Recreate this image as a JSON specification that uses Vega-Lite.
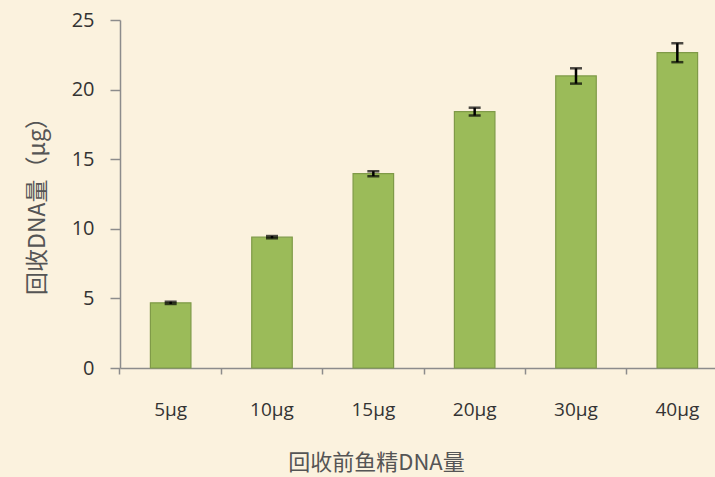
{
  "$schema": "https://vega.github.io/schema/vega-lite/v6.json",
  "autosize": "none",
  "width": 608,
  "height": 348,
  "padding": {"left": 120, "top": 20, "right": 0, "bottom": 109},
  "background": "#FBF2DE",
  "config": {"view": {"stroke": null}, "font": "Open Sans"},
  "data": {"values": [
    {"cat": "5μg", "v": 4.68, "err": 0.08},
    {"cat": "10μg", "v": 9.4, "err": 0.08},
    {"cat": "15μg", "v": 13.96, "err": 0.18},
    {"cat": "20μg", "v": 18.42, "err": 0.28},
    {"cat": "30μg", "v": 20.98, "err": 0.55},
    {"cat": "40μg", "v": 22.65, "err": 0.68}
  ]},
  "encoding": {
    "x": {"field": "cat", "type": "nominal", "sort": null,
      "scale": {"paddingInner": 0.6, "paddingOuter": 0.3},
      "axis": {"title": "回收前鱼精DNA量", "labelAngle": 0, "labelFontSize": 19, "labelColor": "#333333",
        "labelPadding": 26, "bandPosition": -0.75, "tickSize": 6, "tickColor": "#8c8c8c", "tickWidth": 1.5,
        "domainColor": "#8c8c8c", "domainWidth": 1.5, "titleFontSize": 22, "titleFontWeight": "normal",
        "titleColor": "#555555", "titlePadding": 33, "titleX": 256, "titleFont": "Noto Sans CJK SC"}},
    "y": {"field": "v", "type": "quantitative",
       "scale": {"domain": [0, 25]},
       "axis": {"title": "回收DNA量（μg）", "values": [0, 5, 10, 15, 20, 25], "grid": false,
         "labelFontSize": 20, "labelColor": "#333333", "labelPadding": 16, "tickSize": 10,
         "tickColor": "#8c8c8c", "tickWidth": 1.5, "domainColor": "#8c8c8c", "domainWidth": 1.5,
         "titleFontSize": 23, "titleFontWeight": "normal", "titleColor": "#555555", "titlePadding": 22,
         "titleY": 180, "titleFont": "Noto Sans CJK SC"}}
  },
  "layer": [
    {"mark": {"type": "bar", "color": "#9BBB59", "stroke": "#7F9A48", "strokeWidth": 1.2}},
    {"mark": {"type": "errorbar", "color": "black", "thickness": 2.5, "ticks": {"size": 12, "thickness": 2.5, "color": "black"}},
     "encoding": {"yError": {"field": "err"}}}
  ]
}
